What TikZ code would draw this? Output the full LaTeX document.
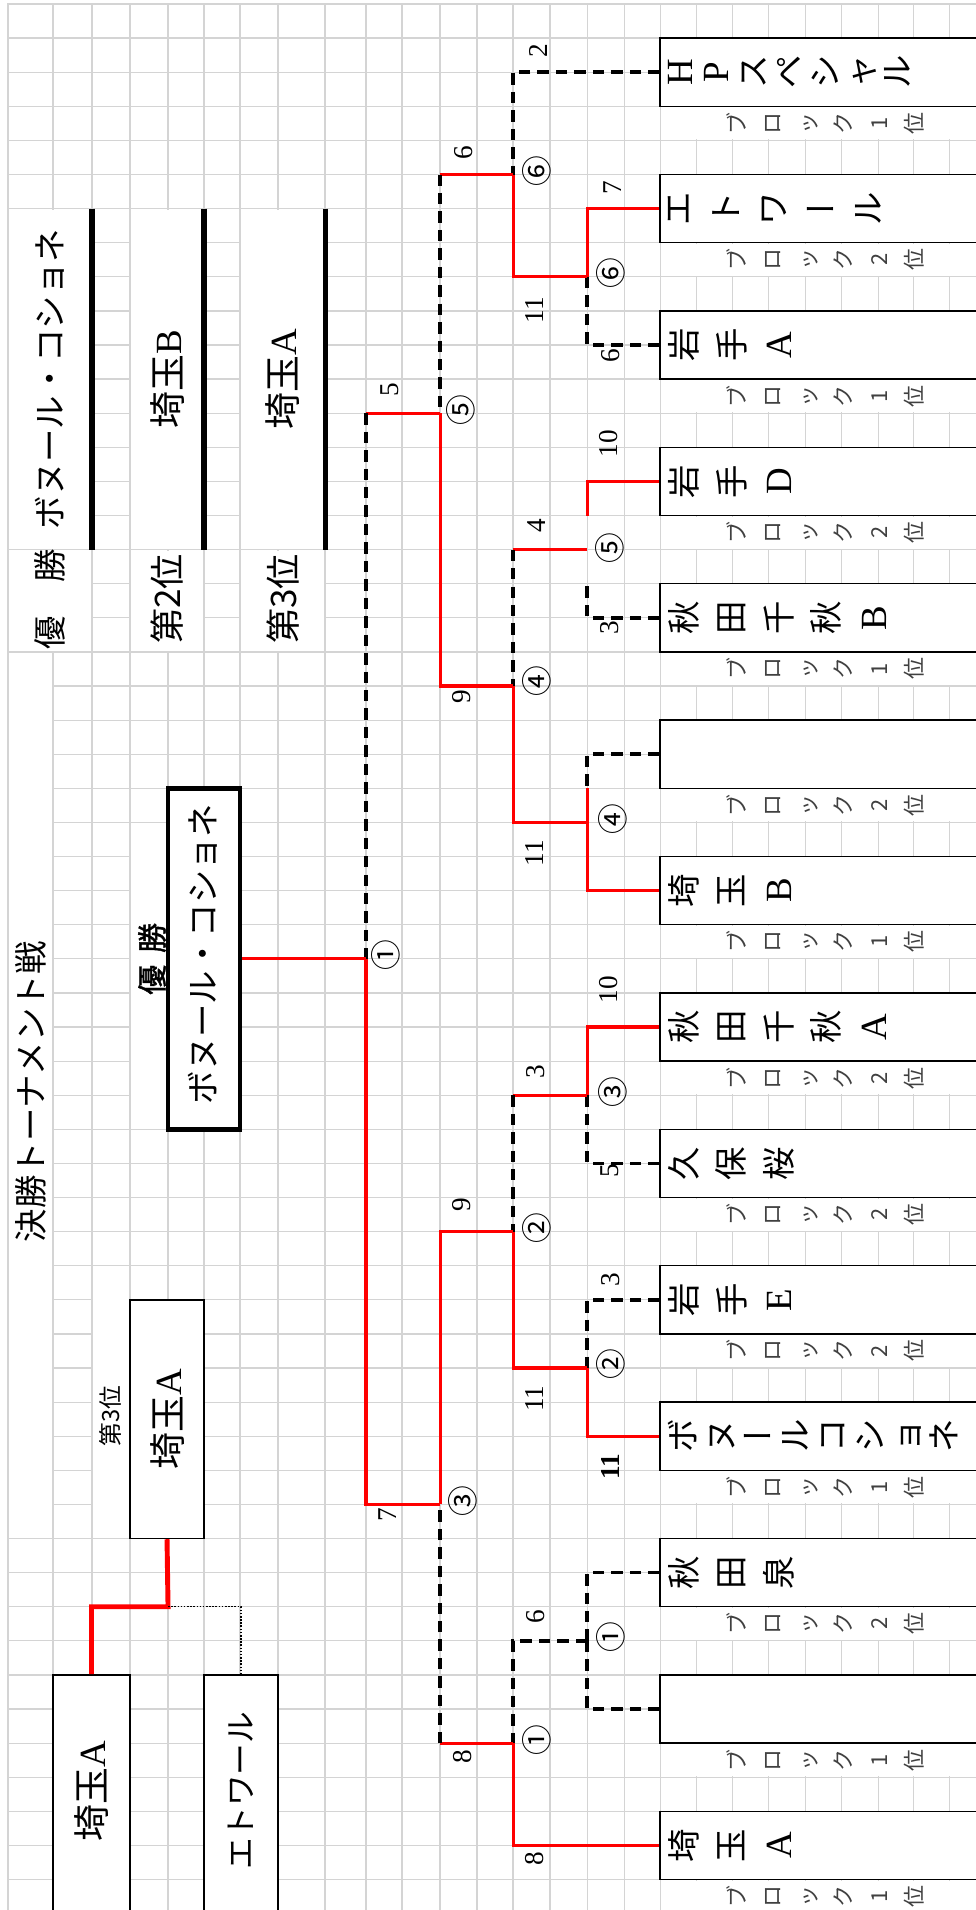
\documentclass[tikz,border=0pt]{standalone}
\usepackage{fontspec}
\setmainfont{Liberation Serif}
\newfontfamily\jp{Noto Sans CJK JP}
\newfontfamily\jpv[RawFeature=+vert]{Noto Sans CJK JP}
\newfontfamily\jpb[FakeBold=1.5]{Noto Sans CJK JP}
\newcommand\lat[1]{{\rmfamily\fontsize{21}{21}\selectfont #1}}
\newcommand\vbar{{\jpv ー}}
\usetikzlibrary{positioning}

\begin{document}
\begin{tikzpicture}[x=0.02cm, y=-0.682cm,
    gridline/.style={draw=black!17, line width=0.7pt},
    win/.style={draw=red, line width=1.8pt},
    lose/.style={draw=black, line width=2.1pt, dash pattern=on 6.5pt off 4pt},
    box/.style={draw, fill=white, line width=0.8pt, inner sep=0pt},
    team/.style={box, minimum width=6.6cm, minimum height=1.364cm},
    tname/.style={rotate=90, anchor=north, inner sep=0pt, align=center, font=\jp\fontsize{19}{#1}\selectfont},
    tname/.default=27,
    blk/.style={rotate=90, anchor=north, inner sep=0pt, align=center, text=black!75, font=\jp\fontsize{12.5}{20.2}\selectfont},
    score/.style={rotate=90, inner sep=0pt, font=\fontsize{15.5}{15.5}\selectfont},
    circ/.style={rotate=90, inner sep=0pt, font=\jp\fontsize{17.5}{17.5}\selectfont},
    cell/.style={rotate=90, inner sep=0pt, font=\jp\fontsize{19}{19}\selectfont},
    bigcell/.style={cell, font=\jp\fontsize{21}{21}\selectfont}]
    \useasboundingbox (0,-0.1173) rectangle (975,55.894);
    \fill[white] (0,-0.1173) rectangle (975,55.894);

    % Grid
    \foreach \x in {8,53,92,130,168,204,240,278,325,366,402,440,477,513,550,587,624,660,696,732,768,805,841,878,913,949}
        \draw[gridline] (\x,0) -- (\x,56);
    \foreach \k in {0,...,55}
        \draw[gridline] (8,\k) -- (980,\k);
    \draw[gridline, line width=1.4pt] (8,56) -- (8,0) -- (980,0);
    \foreach \xa/\ya/\xb/\yb in {8/6/92/16, 130/6/204/16, 240/6/325/16, 8/16/92/19, 130/16/204/19, 240/16/325/19, 8/19/53/45, 130/24/168/33, 92/37/130/45}
        \fill[white] (\xa+1,\ya+0.03) rectangle (\xb-1,\yb-0.03);
    \foreach \k in {3,7,...,55}
        \fill[white] (661,\k+0.03) rectangle (980,\k+0.97);

    % Results table
    \foreach \x in {92,204,325}
        \draw[line width=2.9pt] (\x,6) -- (\x,16);
    \node[cell] (first) at (50,11) {ボヌール・コショネ};
    \node[bigcell] (second) at (167,11) {埼玉\lat{B}};
    \node[bigcell] (third3) at (282,11) {埼玉\lat{A}};
    \node[cell] (firstlbl) at (50,17.45) {優　勝};
    \node[bigcell, font=\jp\fontsize{20}{20}\selectfont] (secondlbl) at (167,17.45) {第2位};
    \node[bigcell, font=\jp\fontsize{20}{20}\selectfont] (thirdlbl) at (283,17.45) {第3位};
    \node[cell] (title) at (31,31.9) {決勝トーナメント戦};

    % Champion
    \node[box, line width=2.6pt, minimum width=1.44cm, minimum height=6.82cm] (champ) at (204,28) {};
    \node[cell] (champtxt) at (203,27.86) {ボヌール・コショネ};
    \node[cell, font=\jpb\fontsize{17}{17}\selectfont] (champlbl) at (152,28) {優\hspace{0.4em}勝};

    % Third place
    \node[box, minimum width=1.48cm, minimum height=4.774cm] (third) at (167,41.5) {};
    \node[bigcell] (thirdtxt) at (167,41.5) {埼玉\lat{A}};
    \node[cell, font=\jp\fontsize{13.5}{13.5}\selectfont] (thirdtag) at (110,41.4) {第3位};
    \node[box, minimum width=1.54cm, minimum height=5.32cm] (sa3) at (91.5,52.9) {};
    \node[bigcell] (sa3txt) at (91.5,52.4) {埼玉\lat{A}};
    \node[box, minimum width=1.48cm, minimum height=5.32cm] (et) at (241,52.9) {};
    \node[cell, font=\jp\fontsize{18}{18}\selectfont] (ettxt) at (241,52.4) {エトワール};
    \coordinate (tj) at (168,47);
    \draw[red, line width=2.8pt] (third.south) -- (tj) -| (sa3.north);
    \draw[line width=0.8pt, dash pattern=on 0.9pt off 0.9pt] (tj) -| (et.north);

    % Teams
    \foreach \i/\rk in {1/1,2/2,3/1,4/2,5/1,6/2,7/1,8/2,9/2,10/2,11/1,12/2,13/1,14/1} {
        \node[team] (t\i) at (825,{4*\i-2}) {};
        \node[blk] (b\i) at (726,{4*\i-0.5}) {ブ\\ロ\\ッ\\ク\\\rk\\位};
    }
    \node[tname=20.6] (n1) at (668,2) {\lat{H}\\\lat{P}\\ス\\ペ\\シ\\ャ\\ル};
    \node[tname] (n2) at (668,6) {エ\\ト\\ワ\\\vbar\\ル};
    \node[tname] (n3) at (668,10) {岩\\手\\\lat{A}};
    \node[tname] (n4) at (668,14) {岩\\手\\\lat{D}};
    \node[tname] (n5) at (668,18) {秋\\田\\千\\秋\\\lat{B}};
    \node[tname] (n7) at (668,26) {埼\\玉\\\lat{B}};
    \node[tname] (n8) at (668,30) {秋\\田\\千\\秋\\\lat{A}};
    \node[tname] (n9) at (668,34) {久\\保\\桜};
    \node[tname] (n10) at (668,38) {岩\\手\\\lat{E}};
    \node[tname=21.2] (n11) at (668,42) {ボ\\ヌ\\\vbar\\ル\\コ\\シ\\ョ\\ネ};
    \node[tname] (n12) at (668,46) {秋\\田\\泉};
    \node[tname] (n14) at (668,54) {埼\\玉\\\lat{A}};

    % Junctions
    \coordinate (a6) at (587,8);
    \coordinate (a5u) at (587,15);
    \coordinate (a5) at (587,16);
    \coordinate (a5d) at (587,17);
    \coordinate (a4u) at (587,23);
    \coordinate (a4) at (587,24);
    \coordinate (a3) at (587,32);
    \coordinate (a2) at (587,40);
    \coordinate (a1) at (587,48);
    \coordinate (b6) at (513,5);
    \coordinate (b4u) at (513,16);
    \coordinate (b4) at (513,20);
    \coordinate (b2u) at (513,32);
    \coordinate (b2) at (513,36);
    \coordinate (b1) at (513,51);
    \coordinate (c5u) at (440,5);
    \coordinate (c5) at (440,12);
    \coordinate (c3) at (440,44);
    \coordinate (c3d) at (440,51);
    \coordinate (d1u) at (366,12);
    \coordinate (d1) at (366,28);

    % Bracket
    \draw[win] (t2.west) -| (a6);
    \draw[lose] (t3.west) -| (a6);
    \draw[win] (t4.west) -| (a5u);
    \draw[lose] (t5.west) -| (a5d);
    \draw[lose] (t6.west) -| (a4u);
    \draw[win] (t7.west) -| (a4u);
    \draw[win] (t8.west) -| (a3);
    \draw[lose] (t9.west) -| (a3);
    \draw[lose] (t10.west) -| (a2);
    \draw[win] (t11.west) -| (a2);
    \draw[lose] (t12.west) -| (a1);
    \draw[lose] (t13.west) -| (a1);
    \draw[lose] (t1.west) -| (b6);
    \draw[win] (a6) -| (b6);
    \draw[win] (a5) -- (b4u);
    \draw[lose] (b4u) -- (b4);
    \draw[win] (a4) -| (b4);
    \draw[win] (a3) -- (b2u);
    \draw[lose] (b2u) -- (b2);
    \draw[win] (a2) -| (b2);
    \draw[lose] (a1) -| (b1);
    \draw[win] (t14.west) -| (b1);
    \draw[win] (b6) -- (c5u);
    \draw[lose] (c5u) -- (c5);
    \draw[win] (b4) -| (c5);
    \draw[win] (b2) -| (c3);
    \draw[win] (b1) -- (c3d);
    \draw[lose] (c3d) -- (c3);
    \draw[win] (c5) -- (d1u);
    \draw[lose] (d1u) -- (d1);
    \draw[win] (c3) -| (d1);
    \draw[win] (d1) -- (champ.east);

    % Scores
    \foreach \x/\y/\s [count=\i] in {538/1.38/2, 534/8.97/11, 464/4.37/6, 462/20.3/9, 390/11.3/5, 388/44.3/7, 612/5.4/7, 610/10.3/6, 608/12.9/10, 609/18.3/3, 536/15.3/4, 534/24.9/11, 608/28.9/10, 610/34.2/5, 536/31.3/3, 534/40.9/11, 462/35.2/9, 462/51.4/8, 610/37.4/3, 536/47.3/6, 534/54.4/8}
        \node[score] (s\i) at (\x,\y) {\s};
    \node[score, font=\bfseries\fontsize{15.5}{15.5}\selectfont] (s22) at (610,42.9) {11};

    % Match numbers
    \foreach \x/\y/\m [count=\i] in {537/4.9/⑥, 611/7.9/⑥, 461/11.9/⑤, 610/15.95/⑤, 537/19.85/④, 613/23.9/④, 386/27.9/①, 613/31.9/③, 537/35.9/②, 611/39.9/②, 463/43.9/③, 611/47.9/①, 537/50.9/①}
        \node[circ] (m\i) at (\x,\y) {\m};
\end{tikzpicture}
\end{document}
